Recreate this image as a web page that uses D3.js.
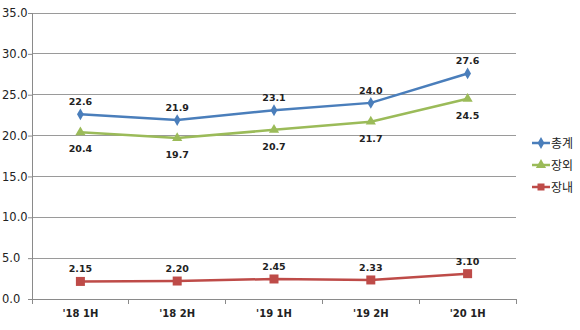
<!DOCTYPE html>
<html><head><meta charset="utf-8">
<script src="https://cdn.jsdelivr.net/npm/d3@7"></script>
<style>body{margin:0;background:#fff;}</style>
</head><body>
<svg id="c" width="580" height="330"></svg>
<script>
const categories = ["'18 1H","'18 2H","'19 1H","'19 2H","'20 1H"];
const total = [22.6, 21.9, 23.1, 24.0, 27.6];
const outside = [20.4, 19.7, 20.7, 21.7, 24.5];
const inside = [2.15, 2.20, 2.45, 2.33, 3.10];
const yTicks = [0,5,10,15,20,25,30,35];
const seriesNames = ["총계","장외","장내"];

const series = [
  {name: seriesNames[0], values: total, color: "#4a7ebb", marker: "diamond", fmt: d3.format(".1f"), pos: "above"},
  {name: seriesNames[1], values: outside, color: "#9bbb59", marker: "triangle", fmt: d3.format(".1f"), pos: "below"},
  {name: seriesNames[2], values: inside, color: "#be4b48", marker: "square", fmt: d3.format(".2f"), pos: "above"}
];

const svg = d3.select("#c");
const L = 32, R = 516, T = 13, B = 299;
const x = d3.scaleBand().domain(categories).range([L, R]);
const y = d3.scaleLinear().domain([0, 35]).range([B, T]);
const font = "'Noto Sans CJK KR', 'DejaVu Sans', sans-serif";

// gridlines
svg.append("g").selectAll("line").data(yTicks.filter(d => d > 0)).join("line")
  .attr("x1", L).attr("x2", R).attr("y1", d => y(d)).attr("y2", d => y(d))
  .attr("stroke", "#9a9a9a").attr("stroke-width", 1).attr("shape-rendering", "crispEdges");

// y axis
const ya = svg.append("g").attr("transform", `translate(${L},0)`)
  .call(d3.axisLeft(y).tickValues(yTicks).tickSize(4).tickFormat(d3.format(".1f")));
ya.select(".domain").attr("stroke", "#8a8a8a").attr("shape-rendering", "crispEdges");
ya.selectAll(".tick line").attr("stroke", "#8a8a8a");
ya.selectAll("text").attr("x", -30).attr("text-anchor", "start")
  .style("font-family", "'DejaVu Sans', sans-serif").style("font-size", "11.5px").attr("fill", "#222");

// x axis
const xa = svg.append("g").attr("transform", `translate(0,${B})`)
  .call(d3.axisBottom(x).tickSize(0).tickPadding(11));
xa.select(".domain").attr("stroke", "#8a8a8a").attr("shape-rendering", "crispEdges");
xa.selectAll("text").style("font-family", "'DejaVu Sans', sans-serif").style("font-size", "10px")
  .style("font-weight", "bold").attr("fill", "#222");
const bounds = categories.map(c => x(c)).concat([R]);
svg.append("g").selectAll("line").data(bounds).join("line")
  .attr("x1", d => d).attr("x2", d => d).attr("y1", B).attr("y2", B + 5)
  .attr("stroke", "#8a8a8a").attr("shape-rendering", "crispEdges");

const cx = c => x(c) + x.bandwidth() / 2;
const line = d3.line().x((d, i) => cx(categories[i])).y(d => y(d));

function marker(g, type, color) {
  if (type === "diamond") {
    g.append("path").attr("d", d3.symbol(d3.symbolDiamond, 40)()).attr("fill", color);
  } else if (type === "triangle") {
    g.append("path").attr("d", d3.symbol(d3.symbolTriangle, 45)()).attr("fill", color);
  } else {
    g.append("rect").attr("x", -4.5).attr("y", -4.5).attr("width", 9).attr("height", 9).attr("fill", color);
  }
}

series.forEach(s => {
  svg.append("path").datum(s.values).attr("d", line).attr("fill", "none")
    .attr("stroke", s.color).attr("stroke-width", 2.5);
  s.values.forEach((v, i) => {
    const g = svg.append("g").attr("transform", `translate(${cx(categories[i])},${y(v)})`);
    marker(g, s.marker, s.color);
    svg.append("text").attr("x", cx(categories[i]))
      .attr("y", s.pos === "above" ? y(v) - 9 : y(v) + 20)
      .attr("text-anchor", "middle")
      .style("font-family", "'DejaVu Sans', sans-serif").style("font-size", "9.5px").style("font-weight", "bold")
      .attr("fill", "#222").text(s.fmt(v));
  });
});

// legend
const lg = svg.append("g");
series.forEach((s, i) => {
  const yy = 143 + i * 22;
  lg.append("line").attr("x1", 532).attr("x2", 550).attr("y1", yy).attr("y2", yy)
    .attr("stroke", s.color).attr("stroke-width", 2.5);
  const g = lg.append("g").attr("transform", `translate(541,${yy})`);
  if (s.marker === "square") {
    g.append("rect").attr("x", -3.5).attr("y", -3.5).attr("width", 7).attr("height", 7).attr("fill", s.color);
  } else marker(g, s.marker, s.color);
  lg.append("text").attr("x", 551).attr("y", yy + 4.5)
    .style("font-family", font).style("font-size", "12px").attr("fill", "#222").text(s.name);
});
</script>
</body></html>
